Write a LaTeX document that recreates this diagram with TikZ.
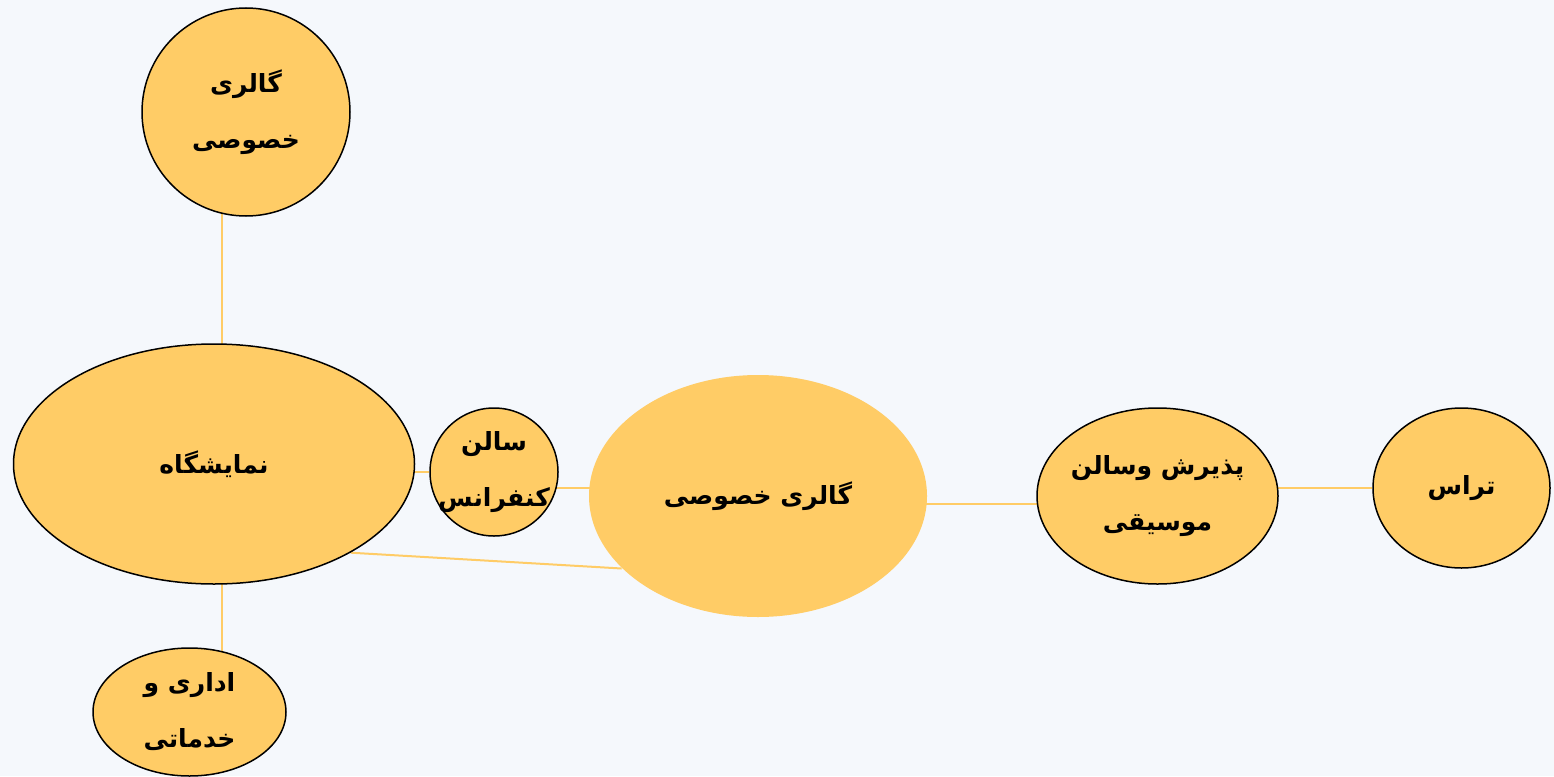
\documentclass[tikz,border=0pt]{standalone}
\usepackage{fontspec}
\newfontfamily\arabicfont[Script=Arabic]{DejaVu Sans}
\TeXXeTstate=1
\usetikzlibrary{shapes.geometric,backgrounds}
\definecolor{bg}{HTML}{F5F8FC}
\definecolor{gold}{HTML}{FFCC66}
\newcommand{\zw}[1]{\makebox[0pt]{#1}}
\begin{document}
\begin{tikzpicture}[x=1pt,y=-1pt,
  blob/.style={ellipse, draw=black, line width=1.5pt, fill=gold, inner sep=0pt,
    font=\arabicfont\bfseries\fontsize{25}{56}\selectfont, align=center},
  link/.style={draw=gold, line width=2pt}]
\useasboundingbox (0,0) rectangle (1554,776);
\node[blob, minimum width=208pt, minimum height=208pt] (top) at (246,112) {\zw{\beginR گالری\endR}\\\zw{\beginR خصوصی\endR}};
\node[blob, minimum width=401pt, minimum height=240pt] (nm) at (214,464) {\zw{\beginR نمایشگاه\endR}};
\node[blob, minimum width=128pt, minimum height=128pt] (sal) at (494,472) {\zw{\beginR سالن\endR}\\\zw{\beginR کنفرانس\endR}};
\node[blob, draw=none, minimum width=338pt, minimum height=242pt] (gal) at (758,496) {\zw{\beginR گالری خصوصی\endR}};
\node[blob, minimum width=241pt, minimum height=176pt] (pz) at (1157.5,496) {\zw{\beginR پذیرش وسالن\endR}\\\zw{\beginR موسیقی\endR}};
\node[blob, minimum width=177pt, minimum height=160pt] (ter) at (1461.5,488) {\zw{\beginR تراس\endR}};
\node[blob, minimum width=193pt, minimum height=128pt] (ad) at (189.5,712) {\zw{\beginR اداری و\endR}\\\zw{\beginR خدماتی\endR}};
\coordinate (xa) at (222,0);
\coordinate (ya) at (0,488);
\coordinate (yb) at (0,504);
\begin{pgfonlayer}{background}
\fill[bg] (0,0) rectangle (1554,776);
\draw[link] (top -| xa) -- (nm -| xa);
\draw[link] (nm -| xa) -- (ad -| xa);
\draw[link] (nm |- sal) -- (sal);
\draw[link] (sal |- ya) -- (gal |- ya);
\draw[link] (nm.-33.2) -- (gal.-152.1);
\draw[link] (gal |- yb) -- (pz |- yb);
\draw[link] (pz |- ter) -- (ter);
\end{pgfonlayer}
\end{tikzpicture}
\end{document}
